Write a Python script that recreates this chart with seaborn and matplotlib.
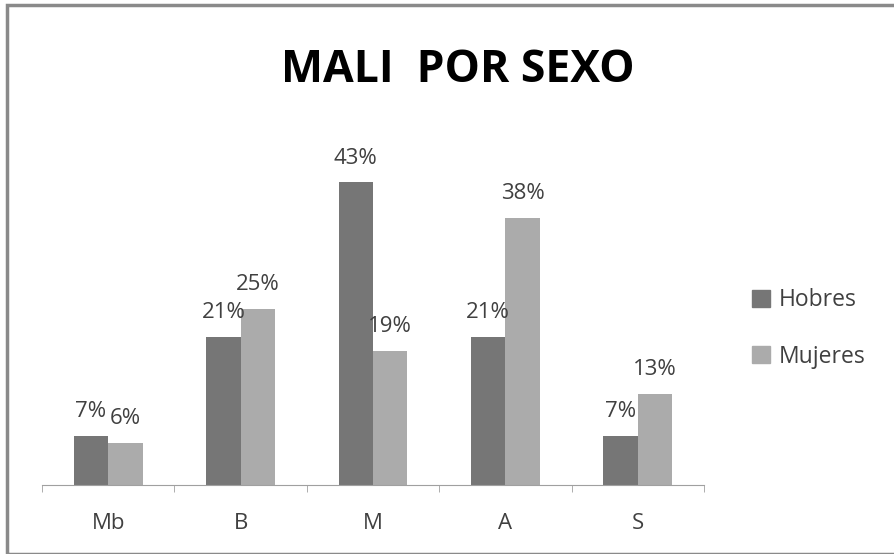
import matplotlib
matplotlib.use("Agg")
import pandas as pd
import numpy as np
import matplotlib.pyplot as plt
import seaborn as sns
from matplotlib.patches import Rectangle

# data
niveles = ['Mb', 'B', 'M', 'A', 'S']
hobres = [7, 21, 43, 21, 7]
mujeres = [6, 25, 19, 38, 13]

df = pd.DataFrame({'nivel': niveles * 2,
                   'pct': hobres + mujeres,
                   'sexo': ['Hobres'] * 5 + ['Mujeres'] * 5})

sns.set_style('white')
plt.rcParams['font.family'] = ['Open Sans', 'DejaVu Sans']

fig = plt.figure(figsize=(8.94, 5.54), dpi=100)
ax = fig.add_axes([0.047, 0.1245, 0.7405, 0.635])

sns.barplot(data=df, x='nivel', y='pct', hue='sexo', order=niveles,
            palette=['#767676', '#ababab'], width=0.52, saturation=1,
            linewidth=0, ax=ax, legend=False)

# percentage labels above each bar
for cont in ax.containers:
    for bar in cont:
        h = bar.get_height()
        ax.annotate(f'{h:.0f}%', (bar.get_x() + bar.get_width() / 2, h),
                    xytext=(0, 10), textcoords='offset points',
                    ha='center', va='bottom', fontsize=16, color='#404040')

ax.set_xlim(-0.5, 4.5)
ax.set_ylim(0, 50)
ax.set_xlabel('')
ax.set_ylabel('')
ax.set_yticks([])
for s in ['top', 'right', 'left']:
    ax.spines[s].set_visible(False)
ax.spines['bottom'].set_color('#a0a0a0')
ax.set_xticks(np.arange(-0.5, 5, 1), minor=True)
ax.tick_params(axis='x', which='major', length=0, pad=20, labelsize=16, labelcolor='#404040')
ax.tick_params(axis='x', which='minor', length=5, color='#a0a0a0', direction='out', bottom=True)

# legend
handles = [Rectangle((0, 0), 1, 1, color='#767676'), Rectangle((0, 0), 1, 1, color='#ababab')]
fig.legend(handles, ['Hobres', 'Mujeres'], loc='center left', bbox_to_anchor=(0.818, 0.407),
           frameon=False, fontsize=16.5, labelcolor='#404040', handlelength=0.8,
           handleheight=0.8, handletextpad=0.35, labelspacing=1.4)

fig.text(0.512, 0.872, 'MALI  POR SEXO', ha='center', va='center', fontsize=32,
         fontweight='bold', color='black')

# chart frame
fig.patches.append(Rectangle((7 / 894, 0), 1, 1 - 5 / 554, transform=fig.transFigure,
                             fill=False, edgecolor='#8a8a8a', linewidth=2.5))

fig.savefig('out.png', dpi=100)
